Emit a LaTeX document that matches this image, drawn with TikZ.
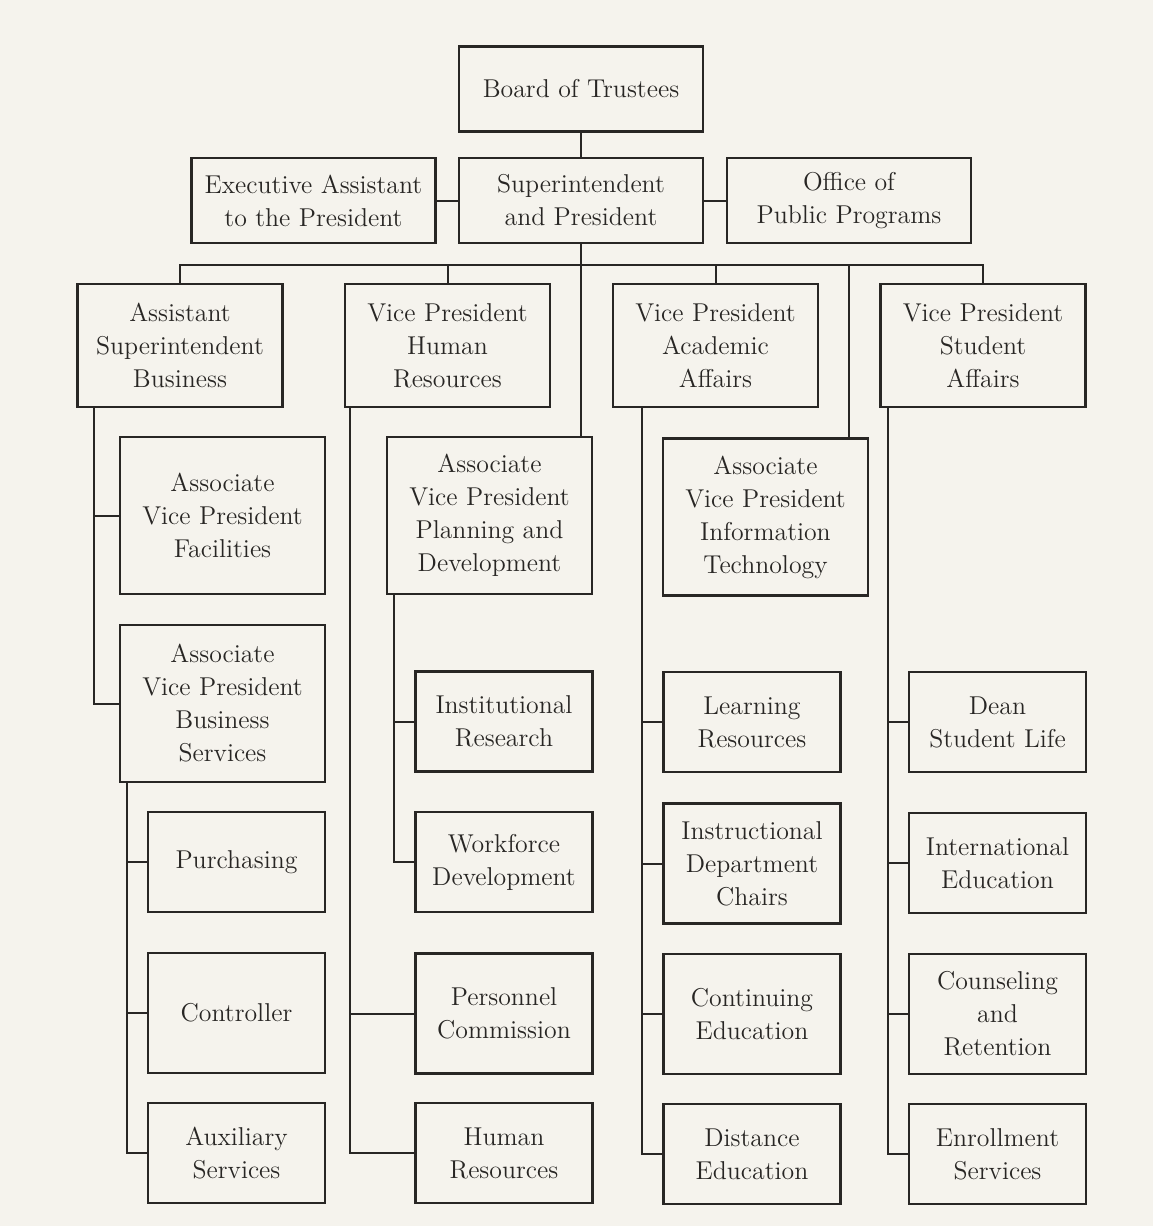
\documentclass[tikz,border=0pt]{standalone}
\usepackage{tikz}
\usetikzlibrary{calc}
\definecolor{paper}{RGB}{245,243,237}
\definecolor{ink}{RGB}{40,38,36}
\tikzset{unit/.style={draw=ink, line width=1.1pt, align=center, inner sep=0pt, text=ink, font=\fontsize{12.9}{16.5}\selectfont},
	head/.style={unit, minimum width=122pt, minimum height=42.5pt},
	vp/.style={unit, minimum width=102.5pt, minimum height=61.5pt},
	assoc/.style={unit, minimum width=102.5pt, minimum height=78.5pt},
	dept/.style={unit, minimum width=88.5pt, minimum height=50pt},
	deptx/.style={dept, minimum height=60pt},
	link/.style={draw=ink, line width=1pt}}

\begin{document}
\begin{tikzpicture}[x=0.5pt, y=-0.5pt]
		\fill[paper] (0,0) rectangle (1153,1226);
		\useasboundingbox (0,0) rectangle (1153,1226);
		
		% board and president
		\node[head] (board) at (581,89) {Board of Trustees};
		\node[head] (exec) at (313.5,200.5) {Executive Assistant\\to the President};
		\node[head] (supt) at (581,200.5) {Superintendent\\and President};
		\node[head] (office) at (849,200.5) {Office of\\Public Programs};
		
		% vice presidents
		\node[vp] (vpbiz) at (180,345.5) {Assistant\\Superintendent\\Business};
		\node[vp] (vphr) at (447.5,345.5) {Vice President\\Human\\Resources};
		\node[vp] (vpaca) at (715.5,345.5) {Vice President\\Academic\\Affairs};
		\node[vp] (vpstu) at (983,345.5) {Vice President\\Student\\Affairs};
		
		% associate vice presidents
		\node[assoc] (facil) at (222.5,515.5) {Associate\\Vice President\\Facilities};
		\node[assoc] (bizsvc) at (222.5,703.5) {Associate\\Vice President\\Business\\Services};
		\node[assoc] (plan) at (489.5,515.5) {Associate\\Vice President\\Planning and\\Development};
		\node[assoc] (it) at (765.5,517) {Associate\\Vice President\\Information\\Technology};
		
		% departments
		\node[dept] (purch) at (236.5,862) {Purchasing};
		\node[deptx] (ctrl) at (236.5,1013) {Controller};
		\node[dept] (aux) at (236.5,1153) {Auxiliary\\Services};
		\node[dept] (inst) at (504,721.5) {Institutional\\Research};
		\node[dept] (work) at (504,862) {Workforce\\Development};
		\node[deptx] (pers) at (504,1013.5) {Personnel\\Commission};
		\node[dept] (hres) at (504,1153) {Human\\Resources};
		\node[dept] (learn) at (752,722) {Learning\\Resources};
		\node[deptx] (instr) at (752,863.5) {Instructional\\Department\\Chairs};
		\node[deptx] (cont) at (752,1014) {Continuing\\Education};
		\node[dept] (dist) at (752,1154) {Distance\\Education};
		\node[dept] (dean) at (997.5,722) {Dean\\Student Life};
		\node[dept] (intl) at (997.5,863) {International\\Education};
		\node[deptx] (couns) at (997.5,1014) {Counseling\\and\\Retention};
		\node[dept] (enrol) at (997.5,1154) {Enrollment\\Services};
		
		% top links
		\coordinate (bus) at (581,265);
		\coordinate (itdrop) at (849,265);
		\draw[link] (board.south) -- (supt.north);
		\draw[link] (exec.east) -- (supt.west);
		\draw[link] (supt.east) -- (office.west);
		\draw[link] (supt.south) -- (supt.south |- plan.north);
		\draw[link] (vpbiz.north) |- (bus) -| (vpstu.north);
		\draw[link] (vphr.north) -- (vphr.north |- bus);
		\draw[link] (vpaca.north) -- (vpaca.north |- bus);
		\draw[link] (itdrop) -- (itdrop |- it.north);
		
		% spines
		\foreach \sub in {facil,bizsvc} \draw[link] ($(vpbiz.south west)+(18,0)$) |- (\sub.west);
		\foreach \sub in {purch,ctrl,aux} \draw[link] ($(bizsvc.south west)+(8,0)$) |- (\sub.west);
		\foreach \sub in {pers,hres} \draw[link] ($(vphr.south west)+(6,0)$) |- (\sub.west);
		\foreach \sub in {inst,work} \draw[link] ($(plan.south west)+(8,0)$) |- (\sub.west);
		\foreach \sub in {learn,instr,cont,dist} \draw[link] ($(vpaca.south west)+(30,0)$) |- (\sub.west);
		\foreach \sub in {dean,intl,couns,enrol} \draw[link] ($(vpstu.south west)+(9,0)$) |- (\sub.west);
	\end{tikzpicture}
\end{document}
